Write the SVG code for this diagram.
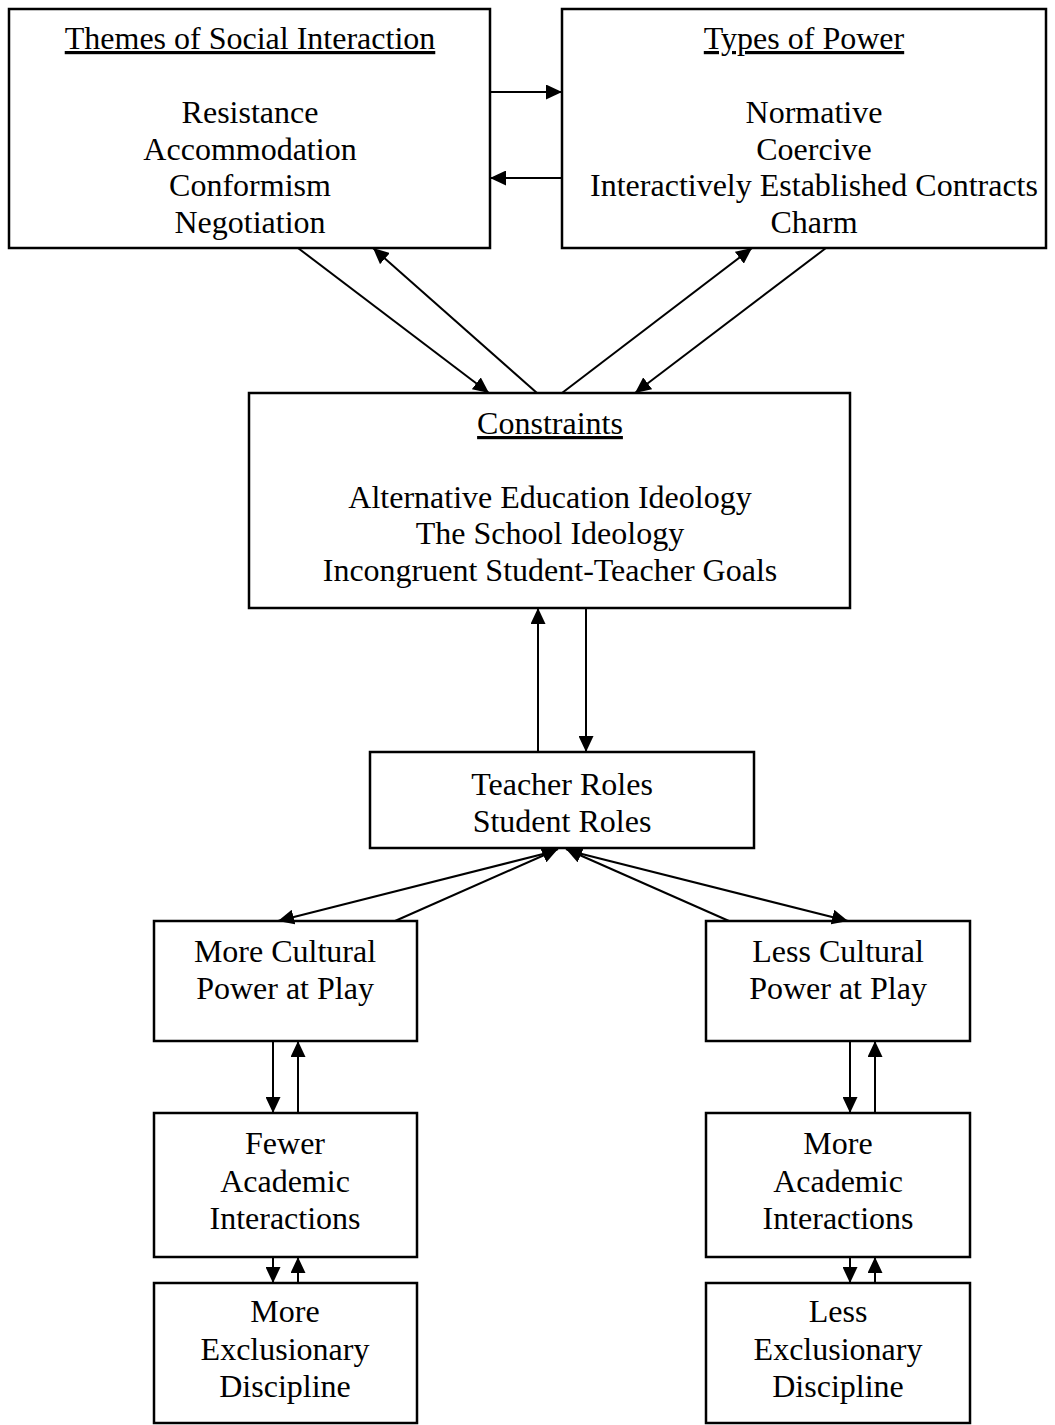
<svg xmlns="http://www.w3.org/2000/svg" width="1055" height="1425" viewBox="0 0 1055 1425">
<style>
.box{fill:#fff;stroke:#000;stroke-width:2.5}
.t{font-family:"Liberation Serif","Times New Roman",serif;font-size:32px;fill:#000;text-anchor:middle}
.u{text-decoration:underline}
.c{stroke:#000;stroke-width:2;fill:none;marker-end:url(#ah)}
</style>
<defs>
<marker id="ah" viewBox="0 0 16 15" refX="16" refY="7.5" markerWidth="16" markerHeight="15" orient="auto" markerUnits="userSpaceOnUse">
<path d="M0,0 L16,7.5 L0,15 z" fill="#000"/>
</marker>
</defs>
<rect width="1055" height="1425" fill="#fff"/>
<g id="themes">
<rect class="box" x="9" y="9" width="481" height="239"/>
<text class="t u" x="250" y="49">Themes of Social Interaction</text>
<text class="t" x="250" y="123">Resistance</text>
<text class="t" x="250" y="160">Accommodation</text>
<text class="t" x="250" y="196">Conformism</text>
<text class="t" x="250" y="233">Negotiation</text>
</g>
<g id="power">
<rect class="box" x="562" y="9" width="484" height="239"/>
<text class="t u" x="804" y="49">Types of Power</text>
<text class="t" x="814" y="123">Normative</text>
<text class="t" x="814" y="160">Coercive</text>
<text class="t" x="814" y="196">Interactively Established Contracts</text>
<text class="t" x="814" y="233">Charm</text>
</g>
<g id="constraints">
<rect class="box" x="249" y="393" width="601" height="215"/>
<text class="t u" x="550" y="434">Constraints</text>
<text class="t" x="550" y="508">Alternative Education Ideology</text>
<text class="t" x="550" y="544">The School Ideology</text>
<text class="t" x="550" y="581">Incongruent Student-Teacher Goals</text>
</g>
<g id="roles">
<rect class="box" x="370" y="752" width="384" height="96"/>
<text class="t" x="562" y="795">Teacher Roles</text>
<text class="t" x="562" y="832">Student Roles</text>
</g>
<g id="moreCultural">
<rect class="box" x="154" y="921" width="263" height="120"/>
<text class="t" x="285" y="962">More Cultural</text>
<text class="t" x="285" y="999">Power at Play</text>
</g>
<g id="lessCultural">
<rect class="box" x="706" y="921" width="264" height="120"/>
<text class="t" x="838" y="962">Less Cultural</text>
<text class="t" x="838" y="999">Power at Play</text>
</g>
<g id="fewerAcademic">
<rect class="box" x="154" y="1113" width="263" height="144"/>
<text class="t" x="285" y="1154">Fewer</text>
<text class="t" x="285" y="1192">Academic</text>
<text class="t" x="285" y="1229">Interactions</text>
</g>
<g id="moreAcademic">
<rect class="box" x="706" y="1113" width="264" height="144"/>
<text class="t" x="838" y="1154">More</text>
<text class="t" x="838" y="1192">Academic</text>
<text class="t" x="838" y="1229">Interactions</text>
</g>
<g id="moreExclusionary">
<rect class="box" x="154" y="1283" width="263" height="140"/>
<text class="t" x="285" y="1322">More</text>
<text class="t" x="285" y="1360">Exclusionary</text>
<text class="t" x="285" y="1397">Discipline</text>
</g>
<g id="lessExclusionary">
<rect class="box" x="706" y="1283" width="264" height="140"/>
<text class="t" x="838" y="1322">Less</text>
<text class="t" x="838" y="1360">Exclusionary</text>
<text class="t" x="838" y="1397">Discipline</text>
</g>
<g id="connectors">
<line class="c" x1="490" y1="92" x2="562" y2="92"/>
<line class="c" x1="562" y1="178" x2="490" y2="178"/>
<line class="c" x1="298" y1="248" x2="489" y2="393"/>
<line class="c" x1="537" y1="393" x2="373" y2="248"/>
<line class="c" x1="562" y1="393" x2="752" y2="248"/>
<line class="c" x1="826" y1="248" x2="635" y2="393"/>
<line class="c" x1="538" y1="752" x2="538" y2="608"/>
<line class="c" x1="586" y1="608" x2="586" y2="752"/>
<line class="c" x1="555" y1="851" x2="278" y2="921"/>
<line class="c" x1="395" y1="921" x2="558" y2="849"/>
<line class="c" x1="729" y1="921" x2="566" y2="849"/>
<line class="c" x1="570" y1="851" x2="848" y2="921"/>
<line class="c" x1="273" y1="1041" x2="273" y2="1113"/>
<line class="c" x1="298" y1="1113" x2="298" y2="1041"/>
<line class="c" x1="850" y1="1041" x2="850" y2="1113"/>
<line class="c" x1="875" y1="1113" x2="875" y2="1041"/>
<line class="c" x1="273" y1="1257" x2="273" y2="1283"/>
<line class="c" x1="298" y1="1283" x2="298" y2="1257"/>
<line class="c" x1="850" y1="1257" x2="850" y2="1283"/>
<line class="c" x1="875" y1="1283" x2="875" y2="1257"/>
</g>
</svg>
